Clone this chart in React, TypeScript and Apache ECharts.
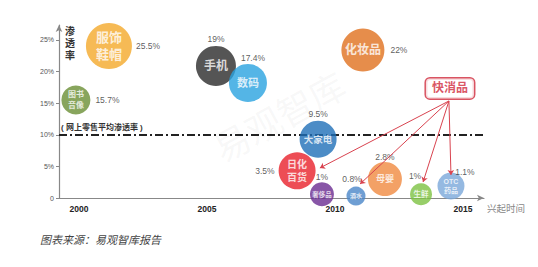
import React, { useEffect, useRef } from "react";
import * as echarts from "echarts";

// ---- data ----
const categories = ["服饰\n鞋帽", "图书\n音像", "手机", "数码", "化妆品", "大家电", "日化\n百货", "奢侈品", "酒水", "母婴", "生鲜", "OTC\n药品"];
const riseYear = [2001.17, 1999.88, 2005.35, 2006.6, 2011.09, 2009.34, 2008.52, 2009.49, 2010.82, 2011.95, 2013.36, 2014.53];
const plotLevel = [24.05, 15.5, 20.9, 18.2, 23.4, 9.3, 4.3, 0.6, 0.3, 3.0, 0.6, 1.9];
const penetration = ["25.5%", "15.7%", "19%", "17.4%", "22%", "9.5%", "3.5%", "1%", "0.8%", "2.8%", "1%", "1.1%"];
const bubbleSize = [46, 29, 40, 38, 43, 37, 37, 24, 19, 34, 22, 27];
const averageRate = 10;
const xTickYears = [2000, 2005, 2010, 2015];
const yTickValues = [0, 5, 10, 15, 20, 25];
const fmcgAnchor = [2014.49, 17.33];
const fmcgStart = [2014.45, 15.35];
const fmcgTargets = [
  [2009.41, 4.75],
  [2010.98, 2.22],
  [2013.44, 2.53],
  [2014.53, 3.64],
];

// ---- styles ----
const FONT = "'Liberation Sans', 'Noto Sans CJK SC', sans-serif";
const colors = ["#F4A92A", "#6A8F35", "#2B2B2B", "#29A3E0", "#E0701E", "#1F6FB8", "#E8202A", "#6A2C91", "#4A86C8", "#F08A40", "#7DC242", "#7BA7D9"];
const innerFont = [13, 8, 12, 11, 12, 9.5, 10, 6.5, 6, 9, 7.5, 7];
const outerLabel: any[] = [
  { position: "right", distance: 4 },
  { position: "right", distance: 5 },
  { position: "top", distance: 3 },
  { position: "top", distance: 2, offset: [5, 0] },
  { position: "right", distance: 6 },
  { position: "top", distance: 2 },
  { position: "left", distance: 4 },
  { position: "top", distance: 1 },
  { position: "top", distance: 3, offset: [-4, 0] },
  { position: "top", distance: 1 },
  { position: "top", distance: 3, offset: [-6, 0] },
  { position: "top", distance: 0, offset: [14, 4] },
];

export default function App() {
  const ref = useRef<HTMLDivElement>(null);
  useEffect(() => {
    if (!ref.current) return;
    const chart = echarts.init(ref.current, null, { renderer: "svg" });
    const bubbleData = categories.map((c, i) => ({
      value: [riseYear[i], plotLevel[i]],
      symbolSize: bubbleSize[i],
      itemStyle: { color: colors[i] },
      label: {
        show: true,
        position: "inside",
        formatter: c,
        color: "#fff",
        fontWeight: "bold",
        fontSize: innerFont[i],
        lineHeight: innerFont[i] * 1.3,
        fontFamily: FONT,
      },
    }));
    const valueData = categories.map((c, i) => ({
      value: [riseYear[i], plotLevel[i]],
      symbolSize: bubbleSize[i],
      label: {
        show: true,
        formatter: penetration[i],
        color: "#333",
        fontSize: 8.5,
        fontFamily: FONT,
        ...outerLabel[i],
      },
    }));
    const option: any = {
      animation: false,
      textStyle: { fontFamily: FONT },
      grid: { left: 59, right: 54, top: 25, bottom: 69 },
      xAxis: {
        type: "value",
        min: 1999.22,
        max: 2015.82,
        name: "兴起时间",
        nameLocation: "end",
        nameGap: 3,
        nameTextStyle: { color: "#888", fontSize: 9.5, verticalAlign: "top", padding: [6, 0, 0, 0] },
        axisLine: { lineStyle: { color: "#888", width: 1.2 }, symbol: ["none", "arrow"], symbolSize: [5, 7] },
        axisTick: { show: false },
        splitLine: { show: false },
        axisLabel: {
          customValues: xTickYears,
          formatter: (v: number) => String(Math.round(v)),
          fontSize: 8.5,
          fontWeight: "bold",
          color: "#222",
          margin: 7,
        },
      },
      yAxis: {
        type: "value",
        min: 0,
        max: 27.37,
        axisLine: { lineStyle: { color: "#888", width: 1.2 }, symbol: ["none", "arrow"], symbolSize: [5, 7] },
        axisTick: { show: true, customValues: yTickValues, length: 3, lineStyle: { color: "#888" } },
        splitLine: { show: false },
        axisLabel: {
          customValues: yTickValues,
          formatter: (v: number) => (v === 0 ? "0" : v + "%"),
          fontSize: 7,
          color: "#555",
          margin: 5,
        },
      },
      graphic: [
        {
          type: "text",
          x: 280,
          y: 118,
          rotation: 0.5,
          z: -10,
          style: {
            text: "易观智库",
            fontSize: 36,
            fill: "rgba(150,150,150,0.07)",
            align: "center",
            verticalAlign: "middle",
            fontFamily: FONT,
          },
        },
        {
          type: "text",
          x: 65,
          y: 25,
          style: {
            text: "渗\n透\n率",
            fontSize: 10,
            lineHeight: 12,
            fontWeight: "bold",
            fill: "#333",
            verticalAlign: "top",
            fontFamily: FONT,
          },
        },
        {
          type: "text",
          x: 40,
          y: 240,
          style: {
            text: "图表来源：易观智库报告",
            fontSize: 11,
            fontStyle: "italic",
            fill: "#444",
            verticalAlign: "middle",
            fontFamily: FONT,
          },
        },
      ],
      series: [
        {
          type: "scatter",
          name: "average",
          data: [],
          silent: true,
          markLine: {
            silent: true,
            z: 1,
            symbol: "none",
            data: [
              {
                yAxis: averageRate,
                lineStyle: { color: "#222", width: 2, type: [8, 3, 2, 3] },
                label: {
                  show: true,
                  position: "insideStartTop",
                  distance: [2, 3],
                  formatter: "( 网上零售平均渗透率 )",
                  color: "#333",
                  fontWeight: "bold",
                  fontSize: 8,
                  fontFamily: FONT,
                },
              },
            ],
          },
        },
        {
          type: "scatter",
          name: "bubbles",
          z: 3,
          data: bubbleData,
          silent: true,
        },
        {
          type: "scatter",
          name: "values",
          z: 4,
          silent: true,
          itemStyle: { color: "rgba(0,0,0,0)" },
          data: valueData,
        },
        {
          type: "scatter",
          name: "fmcg",
          z: 6,
          silent: true,
          symbolSize: 1,
          itemStyle: { color: "rgba(0,0,0,0)" },
          data: [
            {
              value: fmcgAnchor,
              label: {
                show: true,
                position: "inside",
                formatter: "快消品",
                color: "#D0293B",
                fontWeight: "bold",
                fontSize: 12,
                fontFamily: FONT,
                backgroundColor: "#fff",
                borderColor: "#D0293B",
                borderWidth: 1.5,
                borderRadius: 4,
                padding: [4, 6],
              },
            },
          ],
          markLine: {
            silent: true,
            z: 6,
            symbol: ["none", "arrow"],
            symbolSize: 5,
            lineStyle: { color: "#D9434F", width: 1, type: "solid" },
            label: { show: false },
            data: fmcgTargets.map((t) => [{ coord: fmcgStart }, { coord: t }]),
          },
        },
      ],
    };
    chart.setOption(option);
    return () => chart.dispose();
  }, []);
  return <div ref={ref} style={{ position: "absolute", left: 0, top: 0, width: 538, height: 267 }} />;
}
